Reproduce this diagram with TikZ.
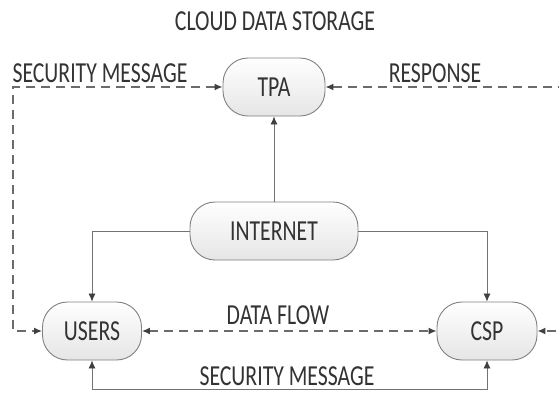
\documentclass[tikz,border=0pt]{standalone}
\usepackage{fontspec}
\setmainfont{Carlito}[FakeStretch=0.75]
\usetikzlibrary{arrows.meta}
\begin{document}
\begin{tikzpicture}[x=1pt,y=-1pt,
  txt/.style={text=black!80, font=\fontsize{29}{32}\selectfont, inner sep=0pt},
  box/.style={txt, draw=black!50, line width=0.9pt, rounded corners=25pt,
    top color=white, bottom color=black!10, minimum height=58pt},
  sol/.style={draw=black!55, line width=0.8pt, arrows={-Latex[length=8pt,width=7pt,color=black!75]}},
  solb/.style={draw=black!55, line width=0.8pt, arrows={Latex[length=8pt,width=7pt,color=black!75]-Latex[length=8pt,width=7pt,color=black!75]}},
  dsh/.style={draw=black!58, line width=1.4pt, dash pattern=on 9pt off 6pt,
    arrows={Latex[length=8pt,width=7pt,color=black!75]-Latex[length=8pt,width=7pt,color=black!75]}}]
\useasboundingbox (0,0) rectangle (559,392);
\clip (0,0) rectangle (559,392);
\fill[white] (0,0) rectangle (559,392);

\node[txt] (title) at (275,21) {CLOUD DATA STORAGE};
\node[box, minimum width=102pt] (tpa) at (274,87) {TPA};
\node[box, minimum width=168pt] (net) at (274,231) {INTERNET};
\node[box, minimum width=99pt] (usr) at (92,331) {USERS};
\node[box, minimum width=100pt] (csp) at (487,331) {CSP};

\node[txt] (sm1) at (100,73) {SECURITY MESSAGE};
\node[txt] (resp) at (435,73) {RESPONSE};
\node[txt] (df) at (278,315) {DATA FLOW};
\node[txt] (sm2) at (287,376) {SECURITY MESSAGE};

\coordinate (l1) at (13,87);
\coordinate (l2) at (13,331);
\coordinate (r1) at (570,87);
\coordinate (r2) at (570,331);
\coordinate (b1) at (92,389);
\coordinate (b2) at (487,389);

\draw[sol] (net.north) -- (tpa.south);
\draw[sol] (net.west) -| (usr.north);
\draw[sol] (net.east) -| (csp.north);
\draw[solb] (usr.south) -- (b1) -- (b2) -- (csp.south);
\draw[dsh] (usr.east) -- (csp.west);
\draw[dsh] (tpa.west) -- (l1) -- (l2) -- (usr.west);
\draw[dsh] (tpa.east) -- (r1) -- (r2) -- (csp.east);
\end{tikzpicture}
\end{document}
